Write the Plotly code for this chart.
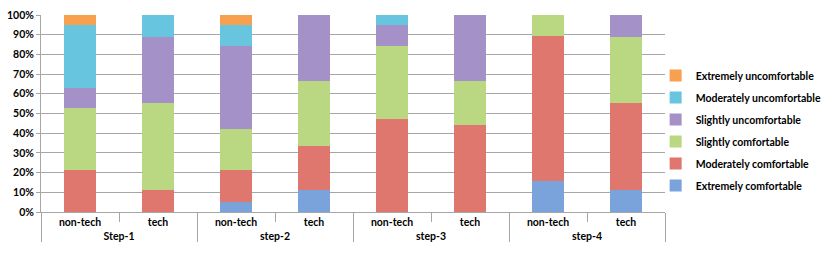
import plotly.graph_objects as go

groups = ["Step-1", "Step-1", "step-2", "step-2", "step-3", "step-3", "step-4", "step-4"]
subcats = ["non-tech", "tech", "non-tech", "tech", "non-tech", "tech", "non-tech", "tech"]

series_names = [
    "Extremely comfortable",
    "Moderately comfortable",
    "Slightly comfortable",
    "Slightly uncomfortable",
    "Moderately uncomfortable",
    "Extremely uncomfortable",
]

extremely_comfortable = [0, 0, 5.3, 11.1, 0, 0, 15.8, 11.1]
moderately_comfortable = [21.1, 11.1, 15.8, 22.2, 47.4, 44.4, 73.7, 44.4]
slightly_comfortable = [31.6, 44.4, 21.1, 33.3, 36.8, 22.2, 10.5, 33.3]
slightly_uncomfortable = [10.5, 33.3, 42.1, 33.3, 10.5, 33.3, 0, 11.1]
moderately_uncomfortable = [31.6, 11.1, 10.5, 0, 5.3, 0, 0, 0]
extremely_uncomfortable = [5.3, 0, 5.3, 0, 0, 0, 0, 0]

series_values = [
    extremely_comfortable,
    moderately_comfortable,
    slightly_comfortable,
    slightly_uncomfortable,
    moderately_uncomfortable,
    extremely_uncomfortable,
]
colors = ["#7aa3dc", "#e0776f", "#bad782", "#a491c8", "#67c5e0", "#f7a04f"]

FONT = "Lato"
FS = 10.5

fig = go.Figure()
n = len(series_names)
for i, (name, vals, col) in enumerate(zip(series_names, series_values, colors)):
    fig.add_trace(go.Bar(
        x=[groups, subcats], y=vals, name=name, legendgroup=name,
        legendrank=(n - i) * 10,
        marker=dict(color=col, line=dict(width=0)),
    ))

fig.update_layout(
    barmode="stack",
    bargap=0.59,
    width=830, height=259,
    margin=dict(l=41, r=165, t=15, b=47, autoexpand=False),
    plot_bgcolor="white", paper_bgcolor="white",
    font=dict(family=FONT, size=FS, color="#000000"),
    legend=dict(
        traceorder="grouped",
        x=0.985, xanchor="left", y=0.414, yanchor="middle",
        bgcolor="rgba(0,0,0,0)",
        font=dict(family=FONT, size=FS, color="#000000", weight="bold"),
        itemwidth=30, tracegroupgap=3,
    ),
    showlegend=True,
)
fig.update_yaxes(
    range=[0, 100], dtick=10, ticksuffix="%",
    showgrid=True, gridcolor="#a6a6a6", gridwidth=1,
    showline=True, linecolor="#a6a6a6", linewidth=1,
    ticks="outside", ticklen=4, tickcolor="#a6a6a6",
    tickfont=dict(family=FONT, size=FS, color="#000000", weight="bold"),
    zeroline=False, automargin=False,
)
fig.update_xaxes(
    showline=True, linecolor="#a6a6a6", linewidth=1,
    showdividers=True, dividercolor="#a6a6a6", dividerwidth=1,
    ticks="outside", ticklen=9, tickcolor="#a6a6a6",
    tickfont=dict(family=FONT, size=FS, color="#000000", weight="bold"),
    automargin=False,
)

fig.write_html("out.html", config={"displayModeBar": False},
               post_script="document.body.style.margin='0';")
